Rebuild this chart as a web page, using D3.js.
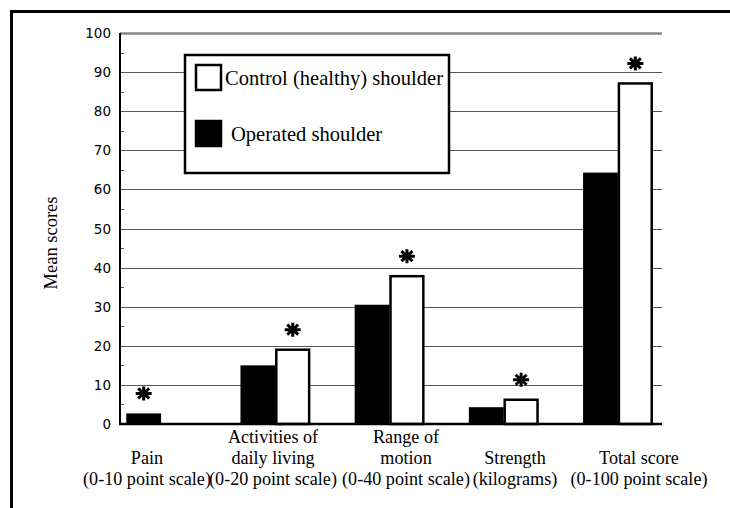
<!DOCTYPE html>
<html>
<head>
<meta charset="utf-8">
<script src="https://cdn.jsdelivr.net/npm/d3@7"></script>
<style>
  body { margin: 0; background: #fff; }
  svg { display: block; }
  .serif { font-family: 'Liberation Serif', Tinos, 'DejaVu Serif', 'Noto Serif', FreeSerif, 'Nimbus Roman', 'Times New Roman', Times, serif; }
</style>
</head>
<body>
<div class="chart"></div>
<script>
const categories = ['Pain', 'ADL', 'ROM', 'Strength', 'Total'];
const categoryLabels = [
    ['Pain', '(0-10 point scale)'],
    ['Activities of', 'daily living', '(0-20 point scale)'],
    ['Range of', 'motion', '(0-40 point scale)'],
    ['Strength', '(kilograms)'],
    ['Total score', '(0-100 point scale)']
];
const operated = [2.7, 15, 30.5, 4.3, 64.3];
const control = [0, 19, 37.8, 6.2, 87.1];
const series = ['Operated shoulder', 'Control (healthy) shoulder'];
const yTicks = [0, 10, 20, 30, 40, 50, 60, 70, 80, 90, 100];

const width = 730, height = 508;
const plotLeft = 120, plotRight = 662, plotTop = 33, plotBottom = 424;

const svg = d3.select('.chart')
    .append('svg')
        .attr('width', width)
        .attr('height', height);

// pick a font size so that a sample string gets the width it has in the picture
function fitSize(sample, target) {
    const t = svg.append('text').attr('class', 'serif')
        .style('font-size', '100px').text(sample);
    const w = t.node().getComputedTextLength();
    t.remove();
    return (100 * target / w).toFixed(2) + 'px';
}
const labelSize = fitSize('(0-20 point scale)', 128);
const legendSize = fitSize('Control (healthy) shoulder', 218);
const titleSize = fitSize('Mean scores', 93);

// outer frame (runs off the right and bottom edges)
svg.append('rect')
    .attr('x', 11.5).attr('y', 11.5)
    .attr('width', 800).attr('height', 600)
    .attr('fill', 'none')
    .attr('stroke', '#000')
    .attr('stroke-width', 3);

const y = d3.scaleLinear().domain([0, 100]).range([plotBottom, plotTop]);
const x = d3.scaleBand().domain(categories).range([104, 675])
    .paddingInner(0.39).paddingOuter(0.195);
const xs = d3.scaleBand().domain(series).range([0, x.bandwidth()]);
// the category captions sit where the original author typed them, not under the bars
const xLabel = d3.scaleOrdinal().domain(categories).range([147, 273, 406, 515, 639]);

const rows = categories.map((c, i) => ({
    cat: c, vals: [operated[i], control[i]], labels: categoryLabels[i]
}));

// gridlines
svg.append('g').selectAll('line')
    .data(yTicks.filter(t => t > 0))
    .enter().append('line')
        .attr('x1', plotLeft).attr('x2', plotRight)
        .attr('y1', d => Math.round(y(d)) + 0.5)
        .attr('y2', d => Math.round(y(d)) + 0.5)
        .attr('stroke', d => d === 100 ? '#888' : '#555')
        .attr('stroke-width', d => d === 100 ? 2.5 : 1);

// minor ticks
svg.append('g').selectAll('line')
    .data(d3.range(5, 100, 10))
    .enter().append('line')
        .attr('x1', plotLeft).attr('x2', plotLeft + 4)
        .attr('y1', d => Math.round(y(d)) + 0.5)
        .attr('y2', d => Math.round(y(d)) + 0.5)
        .attr('stroke', '#555');

// bars
const group = svg.append('g').selectAll('g')
    .data(rows)
    .enter().append('g')
        .attr('transform', d => `translate(${x(d.cat)},0)`);

group.selectAll('rect')
    .data(d => d.vals.map((v, i) => ({ s: series[i], v: v })))
    .enter().append('rect')
        .filter(d => d.v > 0)
        .attr('x', d => xs(d.s) + (d.s === series[1] ? 1 : 0))
        .attr('y', d => y(d.v))
        .attr('width', d => xs.bandwidth() - (d.s === series[1] ? 2 : 0))
        .attr('height', d => plotBottom - y(d.v))
        .attr('fill', d => d.s === series[0] ? '#000' : '#fff')
        .attr('stroke', '#000')
        .attr('stroke-width', d => d.s === series[0] ? 0 : 2.5);

// significance asterisks over the taller bar
const star = 'M-8,0H8M0,-7V7M-5.5,-5L5.5,5M-5.5,5L5.5,-5';
group.append('path')
    .attr('d', star)
    .attr('transform', d => {
        const k = d.vals[1] >= d.vals[0] ? 1 : 0;
        return `translate(${xs(series[k]) + xs.bandwidth() / 2},${y(d3.max(d.vals)) - 20})`;
    })
    .attr('stroke', '#000')
    .attr('stroke-width', 3)
    .attr('fill', 'none');

// axes lines
svg.append('line')
    .attr('x1', plotLeft).attr('x2', plotLeft)
    .attr('y1', plotTop).attr('y2', plotBottom + 1)
    .attr('stroke', '#000').attr('stroke-width', 2);
svg.append('line')
    .attr('x1', plotLeft - 1).attr('x2', plotRight)
    .attr('y1', plotBottom).attr('y2', plotBottom)
    .attr('stroke', '#000').attr('stroke-width', 2.5);

// y tick labels
svg.append('g').selectAll('text')
    .data(yTicks)
    .enter().append('text')
        .attr('x', plotLeft - 9)
        .attr('y', d => y(d) + 5)
        .attr('text-anchor', 'end')
        .style('font-family', 'DejaVu Sans, Verdana, sans-serif')
        .style('font-size', '13.5px')
        .text(d => d);

// y title
svg.append('text')
    .attr('class', 'serif')
    .attr('transform', 'translate(57,243) rotate(-90)')
    .attr('text-anchor', 'middle')
    .style('font-size', titleSize)
    .text('Mean scores');

// category labels (bottom aligned)
const lineY = [443, 464, 485];
svg.append('g').selectAll('g')
    .data(rows)
    .enter().append('g')
    .each(function (d) {
        const off = 3 - d.labels.length;
        d3.select(this).selectAll('text')
            .data(d.labels)
            .enter().append('text')
                .attr('class', 'serif')
                .attr('x', xLabel(d.cat))
                .attr('y', (t, i) => lineY[i + off])
                .attr('text-anchor', 'middle')
                .style('font-size', labelSize)
                .text(t => t);
    });

// legend
const legend = svg.append('g');
legend.append('rect')
    .attr('x', 185).attr('y', 55)
    .attr('width', 264).attr('height', 118)
    .attr('fill', '#fff')
    .attr('stroke', '#000')
    .attr('stroke-width', 2.5);

const legendItems = [
    { s: series[1], fill: '#fff', y: 65, tx: 225 },
    { s: series[0], fill: '#000', y: 121, tx: 231 }
];
legendItems.forEach(d => {
    legend.append('rect')
        .attr('x', 196).attr('y', d.y)
        .attr('width', 25).attr('height', 25)
        .attr('fill', d.fill)
        .attr('stroke', '#000')
        .attr('stroke-width', 2.5);
    legend.append('text')
        .attr('class', 'serif')
        .attr('x', d.tx).attr('y', d.y + 20)
        .style('font-size', legendSize)
        .text(d.s);
});
</script>
</body>
</html>
